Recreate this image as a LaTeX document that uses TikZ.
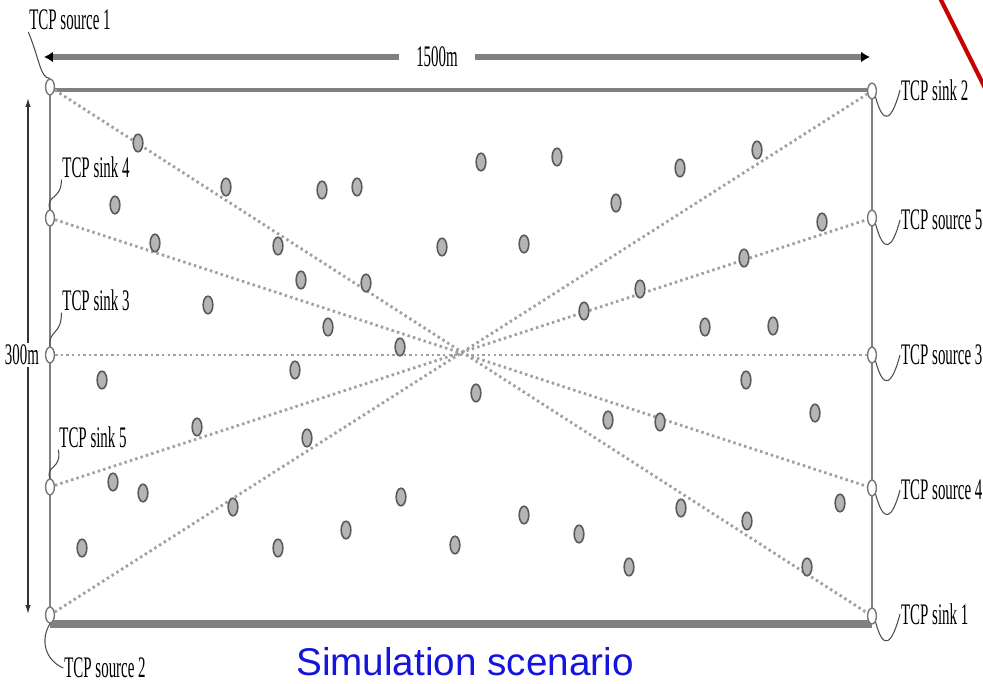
\documentclass[tikz,border=0pt]{standalone}
\usepackage{fontspec}
\setmainfont{Liberation Serif}
\newfontfamily\capfont{Liberation Sans}
\usetikzlibrary{arrows.meta,positioning,shapes.geometric}
\definecolor{bar}{RGB}{128,128,128}
\definecolor{hostgray}{RGB}{150,150,150}
\definecolor{capblue}{RGB}{20,20,220}
\definecolor{markred}{RGB}{200,0,0}

\tikzset{
  host/.style={ellipse, draw=hostgray!60!black, fill=hostgray!70, line width=0.9pt,
    minimum width=5.5pt, minimum height=10pt, inner sep=0pt},
  term/.style={ellipse, draw=hostgray!80!black, fill=white, line width=0.8pt,
    minimum width=5pt, minimum height=9pt, inner sep=0pt},
  lbl/.style={font=\fontsize{17}{20}\selectfont, xscale=0.5, inner sep=1pt},
  flow/.style={draw=hostgray!90, line width=1.6pt, dash pattern=on 1.4pt off 1.8pt},
  lead/.style={draw=black!70, line width=0.6pt},
}

\begin{document}
\begin{tikzpicture}[x=0.02cm,y=-0.02cm]
  \useasboundingbox (0,0) rectangle (983,683);
  % corners of the field
  \coordinate (tl) at (50,90);
  \coordinate (tr) at (872,90);
  \coordinate (bl) at (50,624);
  \coordinate (br) at (872,624);
  % field frame
  \draw[bar, line width=1.8pt] (tl) -- (tr);
  \draw[bar, line width=4.5pt] (bl) -- (br);
  \draw[bar, line width=0.9pt] (tl) -- (bl);
  \draw[bar, line width=0.9pt] (tr) -- (br);
  % dimension arrows
  \coordinate (wl) at (44,57);
  \coordinate (wr) at (870,57);
  \draw[bar, line width=3.4pt, {Latex[black,length=5pt,width=6pt]}-{Latex[black,length=5pt,width=6pt]}] (wl) -- (wr);
  \node[lbl, fill=white, inner xsep=20pt] (width) at (437,57) {1500m};
  \coordinate (ht) at (28,98);
  \coordinate (hb) at (28,614);
  \draw[black!80, line width=0.7pt, -{Latex[length=5pt,width=3pt]}] (28,355) -- (ht);
  \draw[black!80, line width=0.7pt, -{Latex[length=5pt,width=3pt]}] (28,355) -- (hb);
  \node[lbl, fill=white] (height) at (22,355) {300m};
  % TCP end points
  \node[term] (src1) at (50,87) {};
  \node[term] (snk4) at (50,218) {};
  \node[term] (snk3) at (50,355) {};
  \node[term] (snk5) at (50,487) {};
  \node[term] (src2) at (50,615) {};
  \node[term] (snk2) at (872,91) {};
  \node[term] (src5) at (872,218) {};
  \node[term] (src3) at (872,355) {};
  \node[term] (src4) at (872,488) {};
  \node[term] (snk1) at (872,616) {};
  % TCP flows
  \draw[flow] (src1) -- (snk1);
  \draw[flow] (snk4) -- (src4);
  \draw[flow] (snk3) -- (src3);
  \draw[flow] (snk5) -- (src5);
  \draw[flow] (src2) -- (snk2);
  % mobile nodes
  \foreach \p [count=\i] in {(138,143),(226,187),(115,205),(322,190),(357,187),(481,162),
      (557,157),(680,168),(757,150),(616,203),(822,222),(155,243),(278,246),(442,247),
      (524,244),(744,258),(208,305),(301,280),(366,283),(584,311),(640,289),(328,327),
      (400,347),(705,327),(773,326),(102,380),(295,370),(476,393),(746,380),(197,427),
      (307,438),(608,420),(660,422),(815,413),(113,482),(143,493),(233,507),(401,497),
      (524,515),(579,534),(681,508),(747,521),(840,503),(82,548),(278,548),(346,530),
      (455,545),(629,567),(807,567)}
    \node[host] (h\i) at \p {};
  % end point labels
  \node[lbl] (lsrc1) at (70,20) {TCP source 1};
  \node[lbl] (lsnk4) at (96,167) {TCP sink 4};
  \node[lbl] (lsnk3) at (96,300) {TCP sink 3};
  \node[lbl] (lsnk5) at (93,437) {TCP sink 5};
  \node[lbl] (lsrc2) at (105,668) {TCP source 2};
  \node[lbl, anchor=west] (lsnk2) at (900,90) {TCP sink 2};
  \node[lbl, anchor=west] (lsrc5) at (900,220) {TCP source 5};
  \node[lbl, anchor=west] (lsrc3) at (900,355) {TCP source 3};
  \node[lbl, anchor=west] (lsrc4) at (900,490) {TCP source 4};
  \node[lbl, anchor=west] (lsnk1) at (900,614) {TCP sink 1};
  % leader lines
  \draw[lead] (src1.north) .. controls (40,78) and (40,60) .. (lsrc1.south west);
  \draw[lead] (snk4.north) .. controls (45,195) and (62,200) .. (lsnk4.south west);
  \draw[lead] (snk3.north) .. controls (48,330) and (62,335) .. (lsnk3.south west);
  \draw[lead] (snk5.north) .. controls (45,465) and (62,470) .. (lsnk5.south west);
  \draw[lead] (src2.south) .. controls (40,640) and (45,660) .. (lsrc2.west);
  \foreach \a/\b in {snk2/lsnk2,src5/lsrc5,src3/lsrc3,src4/lsrc4,snk1/lsnk1}
    \draw[lead] (\a.south east) .. controls ++(8,30) and ++(-8,30) .. (\b.west);
  % caption and marker
  \node[text=capblue, font=\capfont\fontsize{22}{26}\selectfont] (cap) at (465,662) {Simulation scenario};
  \coordinate (ra) at (940,-2);
  \coordinate (rb) at (985,88);
  \draw[markred, line width=2.4pt] (ra) -- (rb);
\end{tikzpicture}
\end{document}
